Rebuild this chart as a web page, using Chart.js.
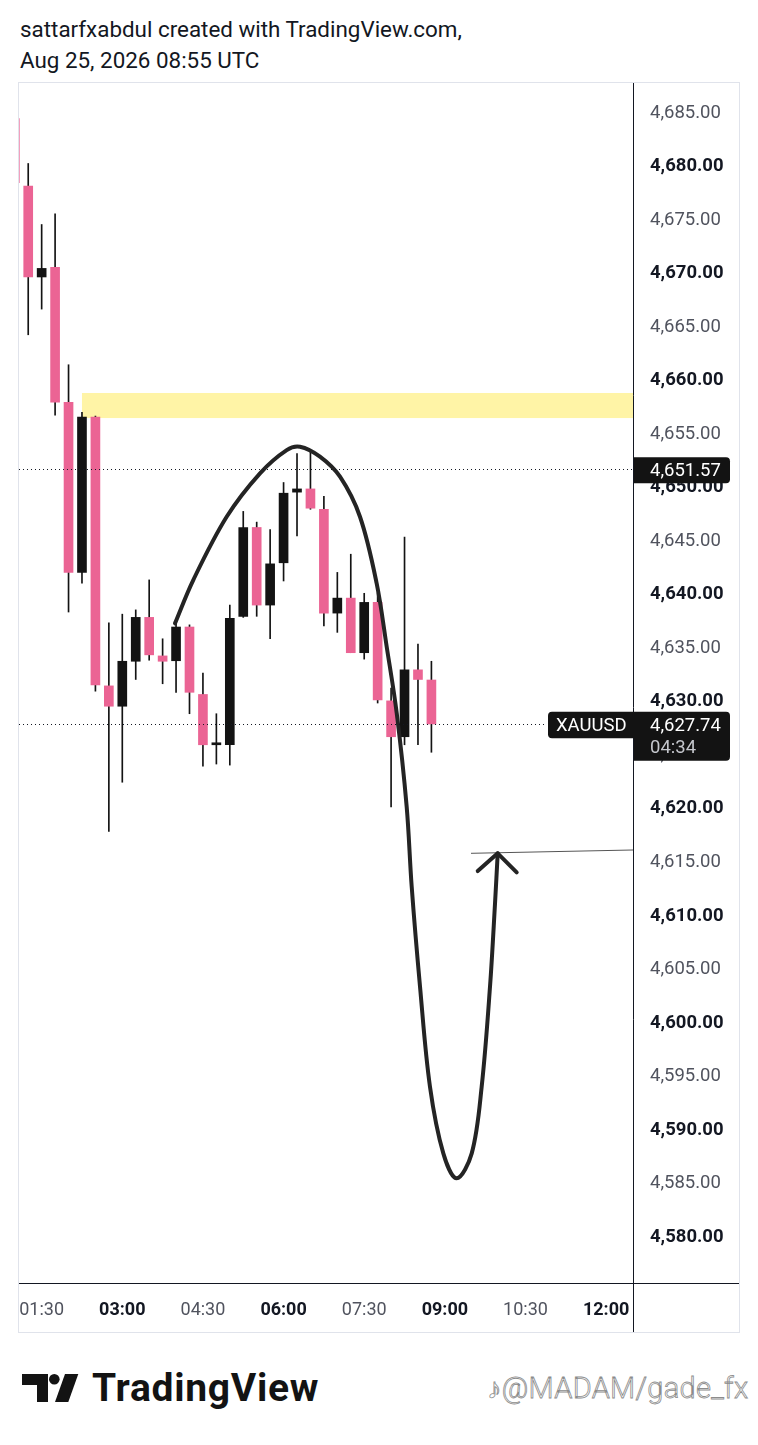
<!DOCTYPE html>
<html>
<head>
<meta charset="utf-8">
<script src="https://cdn.jsdelivr.net/npm/chart.js@4.4.1/dist/chart.umd.min.js"></script>
<style>
  body { margin: 0; background: #fff; width: 758px; height: 1445px; position: relative; overflow: hidden; font-family: Roboto, sans-serif; }
  .head { position: absolute; left: 20px; top: 14px; font-size: 22.4px; line-height: 31px; color: #131722; white-space: nowrap; }
  #wrap { position: absolute; left: 18px; top: 82px; width: 720px; height: 1249px; border: 1px solid #e0e3eb; }
  .logo { position: absolute; left: 22px; top: 1374px; }
  .brand { position: absolute; left: 92px; top: 1369px; font-size: 39px; line-height: 39px; font-weight: 700; color: #131313; letter-spacing: 0.7px; }
  .mark { position: absolute; left: 487px; top: 1374px; font-size: 29px; line-height: 29px; font-weight: 300; color: #fff; -webkit-text-stroke: 0.8px #8c8c8c; white-space: nowrap; letter-spacing: 0.3px; }
</style>
</head>
<body>
<div class="head">sattarfxabdul created with TradingView.com,<br>Aug 25, 2026 08:55 UTC</div>
<div id="wrap"><canvas id="chart" width="720" height="1249"></canvas></div>
<svg class="logo" width="60" height="30" viewBox="0 0 60 30">
  <path d="M0 0H26V28H15V11H0Z" fill="#131313"/>
  <circle cx="32.3" cy="5.3" r="5.3" fill="#131313"/>
  <path d="M43 0H56.3L46.3 28H33Z" fill="#131313"/>
</svg>
<div class="brand">TradingView</div>
<div class="mark">♪@MADAM/gade_fx</div>
<script>
// 15 minute XAUUSD candles
const candleTimes = ['01:00', '01:15', '01:30', '01:45', '02:00', '02:15', '02:30', '02:45',
  '03:00', '03:15', '03:30', '03:45', '04:00', '04:15', '04:30', '04:45',
  '05:00', '05:15', '05:30', '05:45', '06:00', '06:15', '06:30', '06:45',
  '07:00', '07:15', '07:30', '07:45', '08:00', '08:15', '08:30', '08:45'];
const opens = [4684.3, 4678.0, 4669.5, 4670.4, 4657.8, 4641.9, 4656.4, 4631.3,
  4629.4, 4633.6, 4637.7, 4634.1, 4633.65, 4636.8, 4630.5, 4625.8,
  4625.8, 4637.8, 4646.1, 4638.85, 4642.8, 4649.4, 4649.7, 4647.8,
  4638.1, 4639.5, 4634.4, 4639.1, 4629.9, 4626.55, 4632.8, 4631.85];
const highs = [4684.6, 4680.1, 4674.4, 4675.4, 4661.3, 4656.85, 4656.5, 4637.2,
  4638.0, 4638.4, 4641.2, 4635.7, 4637.2, 4637.0, 4632.5, 4628.7,
  4638.85, 4647.6, 4646.6, 4645.9, 4650.3, 4653.0, 4653.2, 4649.0,
  4641.9, 4643.6, 4639.95, 4640.0, 4631.1, 4645.2, 4635.2, 4633.6];
const lows = [4678.0, 4664.1, 4666.5, 4656.6, 4638.2, 4640.9, 4630.8, 4617.7,
  4622.3, 4631.9, 4633.7, 4631.5, 4630.7, 4628.7, 4623.8, 4624.0,
  4623.9, 4637.7, 4637.8, 4635.7, 4641.1, 4645.3, 4647.8, 4636.9,
  4636.3, 4634.4, 4633.8, 4629.7, 4620.0, 4625.8, 4625.8, 4625.1];
const closes = [4678.3, 4669.5, 4670.3, 4657.8, 4641.9, 4656.4, 4631.4, 4629.4,
  4633.6, 4637.7, 4634.2, 4633.6, 4636.8, 4630.7, 4625.8, 4625.9,
  4637.6, 4646.1, 4638.85, 4642.7, 4649.3, 4649.7, 4647.9, 4638.1,
  4639.5, 4634.4, 4639.1, 4630.0, 4626.55, 4632.8, 4631.9, 4627.74];

const priceTicks = [4580, 4585, 4590, 4595, 4600, 4605, 4610, 4615, 4620, 4625, 4630,
  4635, 4640, 4645, 4650, 4655, 4660, 4665, 4670, 4675, 4680, 4685];
const timeTicks = ['01:30', '03:00', '04:30', '06:00', '07:30', '09:00', '10:30', '12:00'];

// drawing on the chart (time in minutes, price)
const curveTimes = [238.8, 259.2, 296.5, 333.7, 363.5, 378.3, 400.6, 423.0, 445.3, 463.9, 475.1, 486.3,
  497.4, 503.0, 512.3, 523.4, 538.3, 553.2, 570.0, 581.1, 590.4, 596.0, 599.0];
const curvePrices = [4637.14, 4641.19, 4647.1, 4651.16, 4653.33, 4653.64, 4652.71, 4650.84, 4647.1, 4640.88, 4634.96, 4628.74,
  4620.01, 4612.54, 4603.2, 4593.86, 4587.63, 4585.3, 4587.63, 4593.86, 4603.2, 4610.99, 4615.66];
const arrowTimes = [576.7, 599.0, 620.2];
const arrowPrices = [4614.0, 4615.66, 4613.88];
const rayTimes = [569.2, 750];
const rayPrices = [4615.66, 4615.97];

const zoneStart = '02:15';
const zoneHigh = 4658.66;
const zoneLow = 4656.32;
const markPrice = 4651.57;
const lastPrice = 4627.74;
const symbol = 'XAUUSD';
const countdown = '04:34';

const PINK = '#eb6494';
const DARK = '#131313';

const toMin = s => { const [h, m] = s.split(':').map(Number); return h * 60 + m; };
const fmtTime = v => String(Math.floor(v / 60)).padStart(2, '0') + ':' + String(v % 60).padStart(2, '0');
const fmtPrice = v => v.toLocaleString('en-US', { minimumFractionDigits: 2, maximumFractionDigits: 2 });

const xs = candleTimes.map(toMin);
const pts = (ts, ps) => ts.map((t, i) => ({ x: t, y: ps[i] }));

// axes keep their fixed size and no label padding, so the plot fills the panel
const fixAxis = (w, h) => s => {
  if (w) s.width = w;
  if (h) s.height = h;
  s.paddingTop = s.paddingBottom = s.paddingLeft = s.paddingRight = 0;
};

const overlay = {
  id: 'overlay',
  beforeDatasetsDraw(chart) {
    const { ctx, chartArea: a, scales: { x, y } } = chart;
    const x0 = x.getPixelForValue(toMin(zoneStart));
    const y0 = y.getPixelForValue(zoneHigh);
    const y1 = y.getPixelForValue(zoneLow);
    ctx.save();
    ctx.fillStyle = '#fff4a6';
    ctx.fillRect(x0, y0, a.right - x0, y1 - y0);
    ctx.restore();
  },
  afterDatasetsDraw(chart) {
    const { ctx, chartArea: a, scales: { y } } = chart;
    ctx.save();
    ctx.strokeStyle = '#131722';
    ctx.lineWidth = 1;
    ctx.setLineDash([1, 3]);
    let py = Math.round(y.getPixelForValue(markPrice)) + 0.5;
    ctx.beginPath(); ctx.moveTo(a.left, py); ctx.lineTo(a.right, py); ctx.stroke();
    py = Math.round(y.getPixelForValue(lastPrice)) + 0.5;
    ctx.beginPath(); ctx.moveTo(a.left, py); ctx.lineTo(a.right - 86, py); ctx.stroke();
    ctx.restore();
  },
  afterDraw(chart) {
    const { ctx, chartArea: a, scales: { y } } = chart;
    ctx.save();
    // axis frame
    ctx.strokeStyle = '#131722';
    ctx.lineWidth = 1;
    ctx.beginPath();
    ctx.moveTo(a.right + 0.5, 0); ctx.lineTo(a.right + 0.5, chart.height);
    ctx.moveTo(0, a.bottom + 0.5); ctx.lineTo(chart.width, a.bottom + 0.5);
    ctx.stroke();

    const box = (x, yy, w, h, r) => {
      ctx.beginPath();
      ctx.roundRect(x, yy, w, h, r);
      ctx.fill();
    };
    ctx.font = '18.5px Roboto';
    ctx.textBaseline = 'middle';
    ctx.textAlign = 'left';

    // marked price label
    let py = y.getPixelForValue(markPrice);
    ctx.fillStyle = '#131313';
    box(a.right + 1, py - 11.6, 96, 26, [0, 4, 4, 0]);
    ctx.fillStyle = '#fff';
    ctx.fillText(fmtPrice(markPrice), a.right + 17, py + 2);

    // last price label
    py = y.getPixelForValue(lastPrice);
    ctx.fillStyle = '#131313';
    box(a.right + 1, py - 12.3, 96, 49, [0, 4, 4, 0]);
    box(a.right - 85, py - 12.3, 86, 26.6, [4, 0, 0, 4]);
    ctx.fillStyle = '#fff';
    ctx.fillText(fmtPrice(lastPrice), a.right + 17, py + 2);
    ctx.fillText(symbol, a.right - 77, py + 2);
    ctx.fillStyle = '#c4c6cc';
    ctx.fillText(countdown, a.right + 17, py + 24);
    ctx.restore();
  }
};

new Chart(document.getElementById('chart'), {
  type: 'bar',
  data: {
    datasets: [
      {
        type: 'line',
        data: pts(curveTimes, curvePrices),
        borderColor: '#242424',
        borderWidth: 4,
        pointRadius: 0,
        tension: 0.35,
        borderCapStyle: 'round',
        borderJoinStyle: 'round',
        order: 0
      },
      {
        type: 'line',
        data: pts(arrowTimes, arrowPrices),
        borderColor: '#242424',
        borderWidth: 4,
        pointRadius: 0,
        tension: 0,
        borderCapStyle: 'round',
        borderJoinStyle: 'round',
        order: 0
      },
      {
        type: 'line',
        data: pts(rayTimes, rayPrices),
        borderColor: '#555555',
        borderWidth: 1,
        pointRadius: 0,
        tension: 0,
        order: 1
      },
      {
        data: xs.map((t, i) => ({ x: t, y: [opens[i], closes[i]] })),
        backgroundColor: xs.map((t, i) => closes[i] >= opens[i] ? DARK : PINK),
        barThickness: 9,
        minBarLength: 2,
        grouped: false,
        order: 2
      },
      {
        data: xs.map((t, i) => ({ x: t, y: [lows[i], highs[i]] })),
        backgroundColor: DARK,
        barThickness: 1,
        grouped: false,
        order: 3
      }
    ]
  },
  options: {
    responsive: false,
    animation: false,
    layout: { padding: 0, autoPadding: false },
    plugins: { legend: { display: false }, tooltip: { enabled: false } },
    scales: {
      x: {
        type: 'linear',
        offset: false,
        min: 64.71,
        max: 750,
        grid: { display: false, drawTicks: false },
        border: { display: false },
        afterBuildTicks: s => { s.ticks = timeTicks.map(t => ({ value: toMin(t) })); },
        afterFit: fixAxis(0, 49),
        ticks: {
          autoSkip: false,
          maxRotation: 0,
          padding: 17,
          callback: v => fmtTime(v),
          font: c => ({ family: 'Roboto', size: 18, weight: c.tick && c.tick.value % 180 === 0 ? 'bold' : 'normal' }),
          color: c => c.tick && c.tick.value % 180 === 0 ? '#131722' : '#50535e'
        }
      },
      y: {
        position: 'right',
        min: 4575.52,
        max: 4687.62,
        grid: { display: false, drawTicks: false },
        border: { display: false },
        afterBuildTicks: s => { s.ticks = priceTicks.map(v => ({ value: v })); },
        afterFit: fixAxis(106, 0),
        ticks: {
          autoSkip: false,
          padding: 17,
          labelOffset: 2,
          callback: v => fmtPrice(v),
          font: c => ({ family: 'Roboto', size: 18.5, weight: c.tick && c.tick.value % 10 === 0 ? 'bold' : 'normal' }),
          color: c => c.tick && c.tick.value % 10 === 0 ? '#131722' : '#50535e'
        }
      }
    }
  },
  plugins: [overlay]
});
</script>
</body>
</html>
